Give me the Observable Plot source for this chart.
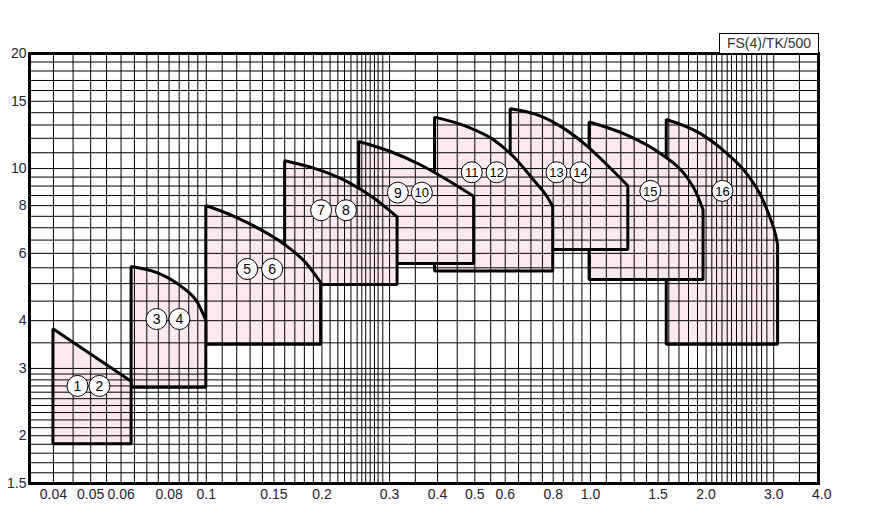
<!DOCTYPE html>
<html>
<head>
<meta charset="utf-8">
<script src="https://cdn.jsdelivr.net/npm/d3@7"></script>
<script src="https://cdn.jsdelivr.net/npm/@observablehq/plot@0.6"></script>
<style>
  html, body { margin: 0; padding: 0; background: #fff; }
  #wrap { position: relative; width: 871px; height: 512px; font-family: "Liberation Sans", Arial, sans-serif; }
  #tag { position: absolute; left: 719px; top: 33px; width: 100px; height: 20px; border: 1px solid #000; border-bottom: none;
         box-sizing: border-box; font-size: 14px; line-height: 19px; text-align: center; color: #333; background: #fff; }
</style>
</head>
<body>
<div id="wrap"><div id="tag">FS(4)/TK/500</div></div>
<script>
// ---- axis ticks ----
const xTicks = [0.04, 0.05, 0.06, 0.08, 0.1, 0.15, 0.2, 0.3, 0.4, 0.5, 0.6, 0.8, 1, 1.5, 2, 3, 4];
const xTickLabels = ["0.04", "0.05", "0.06", "0.08", "0.1", "0.15", "0.2", "0.3", "0.4", "0.5", "0.6", "0.8", "1.0", "1.5", "2.0", "3.0", "4.0"];
const yTicks = [1.5, 2, 3, 4, 6, 8, 10, 15, 20];
const yTickLabels = ["1.5", "2", "3", "4", "6", "8", "10", "15", "20"];

// ---- grid lines ----
const xGrid = [0.04, 0.045, 0.05, 0.055, 0.06, 0.065, 0.07, 0.075, 0.08, 0.085, 0.09, 0.095, 0.1,
  0.11, 0.12, 0.13, 0.14, 0.15, 0.16, 0.17, 0.18, 0.19, 0.2,
  0.21, 0.22, 0.229, 0.238, 0.247, 0.254, 0.26, 0.267, 0.274, 0.28, 0.288, 0.3,
  0.35, 0.4, 0.45, 0.5, 0.55, 0.6, 0.65, 0.7, 0.75, 0.8, 0.85, 0.9, 0.95, 1.0,
  1.1, 1.2, 1.3, 1.4, 1.5, 1.6, 1.7, 1.8, 1.9, 2.0,
  2.07, 2.13, 2.2, 2.27, 2.33, 2.4, 2.48, 2.55, 2.63, 2.71, 2.79, 2.88, 3.0, 3.5];
const yGrid = [1.6, 1.7, 1.8, 1.9, 2, 2.1, 2.2, 2.3, 2.4, 2.5, 2.6, 2.7, 2.8, 2.9, 3, 3.5, 4, 4.5, 5, 5.5,
  6, 6.5, 7, 7.5, 8, 8.5, 9, 9.5, 10, 11, 12, 13, 14, 15, 16, 17, 18, 19];

// ---- regions: x along the top edge, top-edge values, bottom value ----
const regionX = [
  [0.04, 0.0639],
  [0.0639, 0.0749, 0.0861, 0.0952, 0.1],
  [0.1, 0.1184, 0.139, 0.1604, 0.1818, 0.199],
  [0.1604, 0.191, 0.2334, 0.2736, 0.3147],
  [0.25, 0.3024, 0.3618, 0.4244, 0.498],
  [0.394, 0.4783, 0.561, 0.632, 0.7124, 0.772, 0.80],
  [0.62, 0.7417, 0.851, 0.982, 1.114, 1.255],
  [0.995, 1.245, 1.52, 1.783, 1.893, 1.97],
  [1.58, 1.931, 2.265, 2.553, 2.819, 2.934, 3.042, 3.08]
];
const regionTop = [
  [3.8, 2.77],
  [5.53, 5.32, 4.91, 4.44, 4.0],
  [7.98, 7.48, 6.9, 6.31, 5.66, 5.02],
  [10.45, 10.0, 9.22, 8.35, 7.45],
  [11.74, 11.05, 10.2, 9.32, 8.44],
  [13.59, 12.84, 11.86, 10.72, 9.32, 8.44, 7.94],
  [14.29, 13.7, 12.74, 11.43, 10.14, 8.99],
  [13.2, 12.22, 10.95, 9.5, 8.6, 7.78],
  [13.4, 12.34, 10.95, 9.7, 8.26, 7.48, 6.7, 6.31]
];
const regionBottom = [1.9, 2.67, 3.46, 4.96, 5.63, 5.38, 6.12, 5.11, 3.46];

// ---- circled labels ----
const labelText = ["1", "2", "3", "4", "5", "6", "7", "8", "9", "10", "11", "12", "13", "14", "15", "16"];
const labelX = [0.0462, 0.0527, 0.0742, 0.0851, 0.1278, 0.1484, 0.199, 0.231, 0.3152, 0.364, 0.491, 0.570, 0.816, 0.942, 1.432, 2.206];
const labelY = [2.70, 2.70, 4.04, 4.04, 5.46, 5.46, 7.78, 7.78, 8.65, 8.65, 9.78, 9.78, 9.78, 9.78, 8.74, 8.74];

const PINK = "#fce9ee";
const INK = "#1c2233";
const marks = [];
for (let i = regionX.length - 1; i >= 0; i--) {
  const rows = regionX[i].map((x, j) => ({x, top: regionTop[i][j], bottom: regionBottom[i]}));
  marks.push(Plot.areaY(rows, {x: "x", y1: "bottom", y2: "top", fill: PINK, stroke: "#000", strokeWidth: 3,
    strokeLinejoin: "miter", curve: "monotone-x"}));
}
marks.push(Plot.ruleX(xGrid, {stroke: "#000", strokeWidth: 1}));
marks.push(Plot.ruleY(yGrid, {stroke: "#000", strokeWidth: 1}));
marks.push(Plot.frame({stroke: "#000", strokeWidth: 3}));
// tick labels drawn as text marks positioned by the scales
const xTickRows = xTicks.map((v, i) => ({v, s: xTickLabels[i]}));
const yTickRows = yTicks.map((v, i) => ({v, s: yTickLabels[i]}));
marks.push(Plot.text(xTickRows, {x: "v", text: "s", frameAnchor: "bottom", lineAnchor: "top", dy: 6,
  fontSize: 14, fill: INK}));
marks.push(Plot.text(yTickRows, {y: "v", text: "s", frameAnchor: "left", textAnchor: "end", dx: -3,
  fontSize: 14, fill: INK}));
const labels = labelText.map((t, i) => ({t, x: labelX[i], y: labelY[i]}));
marks.push(Plot.dot(labels, {x: "x", y: "y", r: 10.5, fill: "#fff", stroke: "#000", strokeWidth: 1}));
marks.push(Plot.text(labels, {x: "x", y: "y", text: "t", fontSize: d => d.t.length > 1 ? 13 : 14, fill: "#000",
  dy: 0.5}));

const chart = Plot.plot({
  width: 871, height: 512,
  marginLeft: 29, marginRight: 53, marginTop: 53, marginBottom: 29,
  x: {type: "log", domain: [0.03465, 3.924], axis: null},
  y: {type: "log", domain: [1.5, 20], axis: null},
  style: {fontFamily: "'Liberation Sans', Arial, sans-serif", background: "transparent", overflow: "visible"},
  marks
});
chart.style.position = "absolute";
chart.style.left = "0px";
chart.style.top = "0px";
document.getElementById("wrap").prepend(chart);
</script>
</body>
</html>
